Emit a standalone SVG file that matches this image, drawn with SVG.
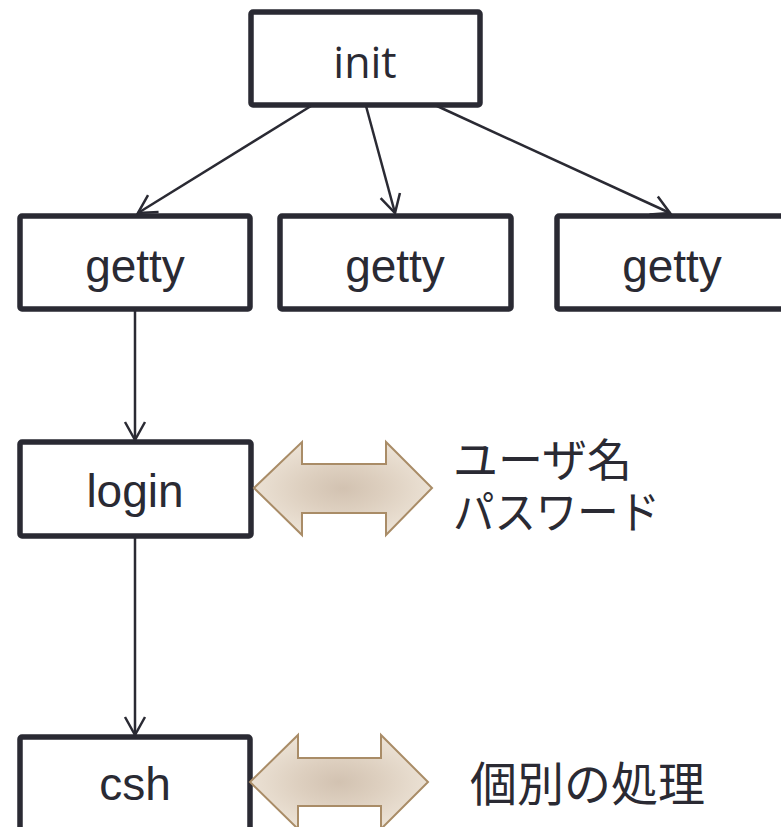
<svg xmlns="http://www.w3.org/2000/svg" width="781" height="827" viewBox="0 0 781 827">
  <defs>
    <style>
      .box { fill: #ffffff; stroke: #2a2a33; stroke-width: 5.5; stroke-linejoin: round; }
      .lbl { font-family: "Liberation Sans", Arial, sans-serif; font-size: 46px; fill: #2a2a33; text-anchor: middle; }
      .lbl-init { font-family: "Open Sans", "Liberation Sans", sans-serif; font-size: 43px; fill: #2a2a33; text-anchor: middle; }
      .note { font-family: "Noto Sans CJK JP", "Noto Sans", sans-serif; font-size: 45px; fill: #2a2a33; }
      .note-lg { font-size: 47px; }
      .edge { fill: none; stroke: #2a2a33; stroke-width: 2.5; marker-end: url(#open-arrow); }
      .dbl { fill: url(#tan-glow); stroke: #a98c67; stroke-width: 2; stroke-linejoin: miter; }
    </style>
    <marker id="open-arrow" markerUnits="userSpaceOnUse" markerWidth="24" markerHeight="24" refX="20" refY="12" orient="auto">
      <path d="M2,2 L20,12 L2,22" fill="none" stroke="#2a2a33" stroke-width="2.5"/>
    </marker>
    <radialGradient id="tan-glow" cx="0.5" cy="0.5" r="0.5">
      <stop offset="0" stop-color="#d2c2b1"/>
      <stop offset="0.45" stop-color="#ddcfbf"/>
      <stop offset="1" stop-color="#ebe1d4"/>
    </radialGradient>
  </defs>

  <!-- process boxes -->
  <g id="init">
    <rect class="box" x="251" y="12" width="229" height="93" rx="2"/>
    <text class="lbl-init" x="365" y="78">init</text>
  </g>
  <g id="getty1">
    <rect class="box" x="20" y="216" width="230" height="93" rx="2"/>
    <text class="lbl" x="135" y="282">getty</text>
  </g>
  <g id="getty2">
    <rect class="box" x="280" y="216" width="231" height="93" rx="2"/>
    <text class="lbl" x="395" y="282">getty</text>
  </g>
  <g id="getty3">
    <rect class="box" x="557" y="216" width="230" height="93" rx="2"/>
    <text class="lbl" x="672" y="282">getty</text>
  </g>
  <g id="login">
    <rect class="box" x="20" y="442" width="231" height="94" rx="2"/>
    <text class="lbl" x="135" y="507">login</text>
  </g>
  <g id="csh">
    <rect class="box" x="20" y="737" width="230" height="100" rx="2"/>
    <text class="lbl" x="135" y="800">csh</text>
  </g>

  <!-- process creation edges -->
  <g id="connectors">
    <line class="edge" x1="311" y1="106" x2="138" y2="213"/>
    <line class="edge" x1="366" y1="106" x2="395" y2="213"/>
    <line class="edge" x1="437" y1="106" x2="670" y2="213"/>
    <line class="edge" x1="135" y1="309" x2="135" y2="440"/>
    <line class="edge" x1="135" y1="536" x2="135" y2="735"/>
  </g>

  <!-- interaction arrows -->
  <g id="login-io">
    <polygon class="dbl" points="254,488 302,442 302,464 386,464 386,442 432,488 386,535 386,513 302,513 302,535"/>
    <text class="note"><tspan x="453" y="477">ユーザ名</tspan><tspan x="453" y="529" textLength="207" lengthAdjust="spacingAndGlyphs">パスワード</tspan></text>
  </g>
  <g id="csh-io">
    <polygon class="dbl" points="250,782 298,735 298,758 381,758 381,735 428,782 381,829 381,806 298,806 298,829"/>
    <text class="note note-lg" x="470" y="801">個別の処理</text>
  </g>
</svg>
